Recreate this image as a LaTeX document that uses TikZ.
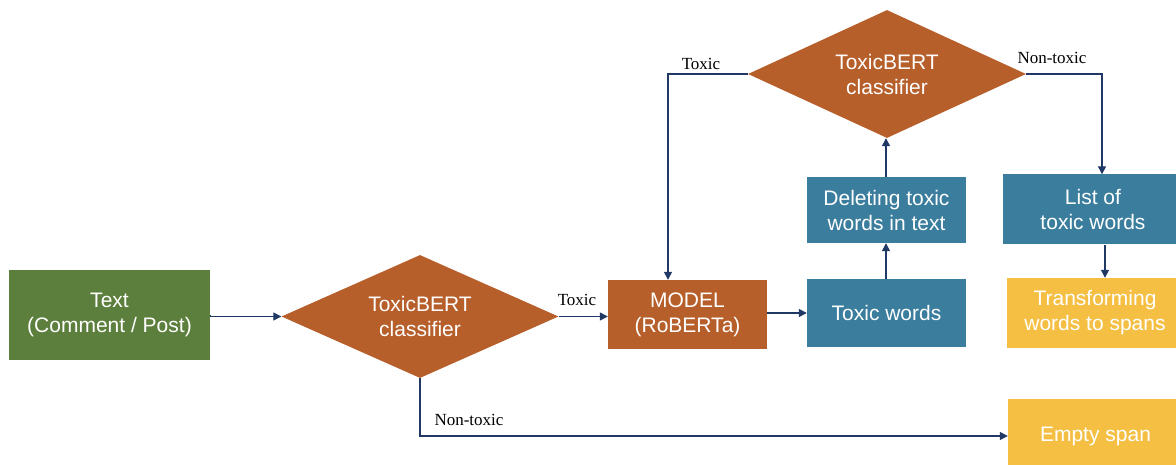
\documentclass[tikz,border=0pt]{standalone}
\usepackage{fontspec}
\setmainfont{Liberation Serif}
\newfontfamily\boxfont{Liberation Sans}
\usetikzlibrary{shapes.geometric,arrows.meta}
\definecolor{cgreen}{RGB}{93,127,61}
\definecolor{corange}{RGB}{183,95,43}
\definecolor{cblue}{RGB}{58,125,157}
\definecolor{cyellow}{RGB}{244,191,67}
\definecolor{cnavy}{RGB}{32,56,100}
\tikzset{
  x=1pt, y=-1pt,
  boxnode/.style={rectangle, draw=none, inner sep=0pt, text=white, align=center,
    font=\boxfont\fontsize{21}{25}\selectfont},
  decision/.style={diamond, aspect=2.2, fill=corange, draw=none, inner sep=0pt, text=white, align=center,
    font=\boxfont\fontsize{21}{25}\selectfont},
  conn/.style={draw=cnavy, line width=1.3pt, -{Triangle[length=8pt,width=8pt]}},
  lbl/.style={font=\fontsize{17}{20}\selectfont, text=black, inner sep=0pt}
}
\begin{document}
\begin{tikzpicture}
\useasboundingbox (0,0) rectangle (1176,465);
\clip (0,0) rectangle (1176,465);
% nodes
\node[boxnode, fill=cgreen, minimum width=201pt, minimum height=90pt] (text) at (109.5,315) {Text\\(Comment / Post)};
\node[decision, minimum width=277pt, minimum height=123pt] (d1) at (420,316.5) {ToxicBERT\\classifier};
\node[boxnode, fill=corange, minimum width=159pt, minimum height=69pt] (model) at (687.5,314.5) {MODEL\\(RoBERTa)};
\node[boxnode, fill=cblue, minimum width=159pt, minimum height=68pt] (tw) at (886.5,313) {Toxic words};
\node[boxnode, fill=cblue, minimum width=159pt, minimum height=66pt] (del) at (886.5,210) {Deleting toxic\\words in text};
\node[decision, minimum width=278pt, minimum height=128pt] (d2) at (887,74) {ToxicBERT\\classifier};
\node[boxnode, fill=cblue, minimum width=180pt, minimum height=70pt] (list) at (1093,209.5) {List of\\toxic words};
\node[boxnode, fill=cyellow, minimum width=176pt, minimum height=70pt] (tr) at (1095,313) {Transforming\\words to spans};
\node[boxnode, fill=cyellow, minimum width=175pt, minimum height=74pt] (empty) at (1095.5,436) {Empty span};
% helper coordinates
\coordinate (tk) at (668,74);
\coordinate (nt) at (1102,74);
\coordinate (lt) at (1105,0);
\coordinate (up) at (886,0);
% connectors
\draw[conn] (text.east) -- (text.east |- d1.west) -- (d1.west);
\draw[conn] (d1.east) -- (d1.east -| model.west);
\draw[conn] (model.east |- tw.west) -- (tw.west);
\draw[conn] (tw.north -| up) -- (del.south -| up);
\draw[conn] (del.north -| up) -- (d2.south -| up);
\draw[conn] (d2.west) -- (tk) -- (tk |- model.north);
\draw[conn] (d2.east) -- (nt) -- (nt |- list.north);
\draw[conn] (list.south -| lt) -- (tr.north -| lt);
\draw[conn] (d1.south) |- (empty.west);
% labels
\node[lbl] (l1) at (577,300) {Toxic};
\node[lbl] (l2) at (701,64) {Toxic};
\node[lbl] (l3) at (1052,58) {Non-toxic};
\node[lbl] (l4) at (469,420) {Non-toxic};
\end{tikzpicture}
\end{document}
